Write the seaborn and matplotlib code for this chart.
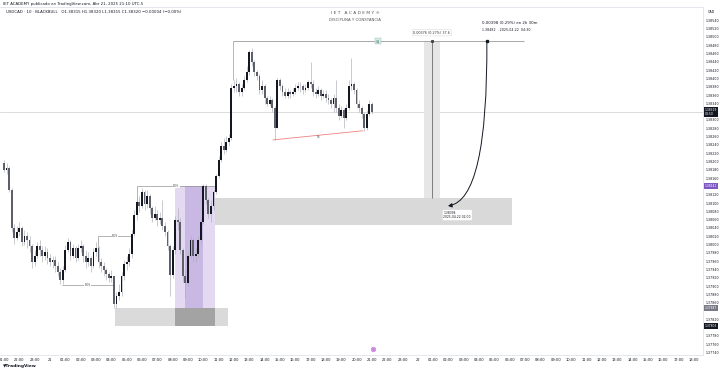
import matplotlib
matplotlib.use("Agg")
import matplotlib.pyplot as plt
import seaborn as sns
import numpy as np
import pandas as pd
from matplotlib.patches import Rectangle, FancyArrowPatch
from matplotlib.path import Path
import matplotlib.transforms as mtransforms

sns.set_theme(style="white")
plt.rcParams['font.family'] = ['DejaVu Sans']

# ---------------- data (USDCAD, 10 min candles) ----------------
first_open = 1.38196
close = [1.38180, 1.38184, 1.38131, 1.38040, 1.38016, 1.38030, 1.38040, 1.38006, 1.38020, 1.38011,
         1.37996, 1.37958, 1.37972, 1.37996, 1.37987, 1.37972, 1.37982, 1.37967, 1.37958, 1.37963,
         1.37948, 1.37934, 1.37914, 1.37939, 1.37987, 1.38006, 1.37972, 1.37991, 1.37967, 1.37991,
         1.37996, 1.37972, 1.37958, 1.37967, 1.37948, 1.37982, 1.37991, 1.37958, 1.37948, 1.37939,
         1.37929, 1.37919, 1.37924, 1.37856, 1.37876, 1.37886, 1.37924, 1.37953, 1.37958, 1.37977,
         1.38025, 1.38071, 1.38102, 1.38093, 1.38127, 1.38098, 1.38117, 1.38088, 1.38064, 1.38073,
         1.38059, 1.38064, 1.38045, 1.38030, 1.37996, 1.37926, 1.37987, 1.38059, 1.38054, 1.37987,
         1.37924, 1.37907, 1.37972, 1.38011, 1.37972, 1.37977, 1.38011, 1.38054, 1.38141, 1.38107,
         1.38073, 1.38093, 1.38127, 1.38165, 1.38204, 1.38237, 1.38228, 1.38247, 1.38257, 1.38377,
         1.38382, 1.38387, 1.38368, 1.38377, 1.38396, 1.38416, 1.38464, 1.38440, 1.38416, 1.38406,
         1.38372, 1.38382, 1.38353, 1.38339, 1.38348, 1.38329, 1.38281, 1.38396, 1.38382, 1.38368,
         1.38358, 1.38368, 1.38363, 1.38368, 1.38377, 1.38382, 1.38382, 1.38372, 1.38377, 1.38392,
         1.38387, 1.38368, 1.38363, 1.38372, 1.38358, 1.38363, 1.38353, 1.38348, 1.38339, 1.38353,
         1.38329, 1.38310, 1.38324, 1.38305, 1.38329, 1.38382, 1.38387, 1.38372, 1.38339, 1.38329,
         1.38315, 1.38281, 1.38315, 1.38339, 1.38319]
high = [1.38204, 1.38196, 1.38189, 1.38136, 1.38049, 1.38045, 1.38054, 1.38045, 1.38035, 1.38030,
        1.38020, 1.38001, 1.37987, 1.38006, 1.38011, 1.37996, 1.37996, 1.37991, 1.37977, 1.37972,
        1.37972, 1.37958, 1.37943, 1.37948, 1.37999, 1.38016, 1.38011, 1.38001, 1.37996, 1.38001,
        1.38011, 1.38001, 1.37987, 1.37982, 1.37972, 1.37991, 1.38006, 1.37996, 1.37967, 1.37958,
        1.37943, 1.37934, 1.37939, 1.37924, 1.37886, 1.37905, 1.37934, 1.37963, 1.37972, 1.37991,
        1.38035, 1.38083, 1.38112, 1.38117, 1.38136, 1.38131, 1.38131, 1.38122, 1.38093, 1.38093,
        1.38083, 1.38078, 1.38107, 1.38054, 1.38035, 1.38001, 1.37996, 1.38069, 1.38088, 1.38064,
        1.37991, 1.37939, 1.37982, 1.38020, 1.38016, 1.37991, 1.38020, 1.38064, 1.38146, 1.38146,
        1.38112, 1.38107, 1.38131, 1.38170, 1.38213, 1.38247, 1.38257, 1.38261, 1.38266, 1.38387,
        1.38396, 1.38401, 1.38392, 1.38387, 1.38406, 1.38430, 1.38469, 1.38474, 1.38445, 1.38421,
        1.38411, 1.38396, 1.38387, 1.38358, 1.38358, 1.38353, 1.38334, 1.38401, 1.38401, 1.38387,
        1.38377, 1.38377, 1.38372, 1.38377, 1.38387, 1.38392, 1.38392, 1.38387, 1.38387, 1.38396,
        1.38440, 1.38396, 1.38377, 1.38382, 1.38377, 1.38372, 1.38372, 1.38363, 1.38353, 1.38363,
        1.38396, 1.38339, 1.38334, 1.38329, 1.38339, 1.38396, 1.38449, 1.38392, 1.38377, 1.38348,
        1.38334, 1.38319, 1.38324, 1.38348, 1.38343]
low = [1.38175, 1.38170, 1.38127, 1.38030, 1.38001, 1.38011, 1.38020, 1.37996, 1.37999, 1.37991,
       1.37982, 1.37943, 1.37948, 1.37967, 1.37972, 1.37958, 1.37963, 1.37953, 1.37948, 1.37943,
       1.37934, 1.37924, 1.37905, 1.37905, 1.37934, 1.37982, 1.37963, 1.37967, 1.37958, 1.37963,
       1.37982, 1.37958, 1.37943, 1.37948, 1.37934, 1.37943, 1.37972, 1.37943, 1.37934, 1.37924,
       1.37914, 1.37910, 1.37910, 1.37847, 1.37847, 1.37866, 1.37876, 1.37914, 1.37939, 1.37948,
       1.37967, 1.38020, 1.38059, 1.38078, 1.38088, 1.38083, 1.38088, 1.38073, 1.38054, 1.38059,
       1.38045, 1.38049, 1.38035, 1.38020, 1.37987, 1.37876, 1.37919, 1.37977, 1.38035, 1.37977,
       1.37910, 1.37871, 1.37900, 1.37967, 1.37958, 1.37958, 1.37967, 1.38001, 1.38049, 1.38098,
       1.38064, 1.38054, 1.38083, 1.38122, 1.38160, 1.38199, 1.38218, 1.38223, 1.38237, 1.38252,
       1.38368, 1.38368, 1.38358, 1.38358, 1.38372, 1.38392, 1.38408, 1.38430, 1.38406, 1.38396,
       1.38363, 1.38363, 1.38339, 1.38334, 1.38334, 1.38319, 1.38252, 1.38281, 1.38372, 1.38358,
       1.38353, 1.38353, 1.38353, 1.38358, 1.38363, 1.38372, 1.38368, 1.38363, 1.38368, 1.38372,
       1.38377, 1.38358, 1.38353, 1.38358, 1.38348, 1.38353, 1.38343, 1.38339, 1.38329, 1.38319,
       1.38319, 1.38300, 1.38305, 1.38281, 1.38300, 1.38324, 1.38372, 1.38363, 1.38329, 1.38319,
       1.38305, 1.38274, 1.38276, 1.38310, 1.38315]

hour_labels = ["21:00", "22:00", "23:00", "21", "01:00", "02:00", "03:00", "04:00", "05:00", "06:00",
               "07:00", "08:00", "09:00", "10:00", "11:00", "12:00", "13:00", "14:00", "15:00", "16:00",
               "17:00", "18:00", "19:00", "20:00", "21:00", "22:00", "23:00", "22", "01:00", "02:00",
               "03:00", "04:00", "05:00", "06:00", "07:00", "08:00", "09:00", "10:00", "11:00", "12:00",
               "13:00", "14:00", "15:00", "16:00", "17:00", "18:00"]
candles_per_hour = 6
price_ticks = [1.37740, 1.37760, 1.37780, 1.37800, 1.37820, 1.37840, 1.37860, 1.37880, 1.37900,
               1.37920, 1.37940, 1.37960, 1.37980, 1.38000, 1.38020, 1.38040, 1.38060, 1.38080,
               1.38100, 1.38120, 1.38140, 1.38160, 1.38180, 1.38200, 1.38220, 1.38240, 1.38260,
               1.38280, 1.38300, 1.38320, 1.38340, 1.38360, 1.38380, 1.38400, 1.38420, 1.38440,
               1.38460, 1.38480, 1.38500, 1.38520, 1.38540]

# price tags shown on the scale
tag_prices = [close[-1], 1.38141, 1.37847, 1.37803]
tag_texts = ["1.38319\n04:50", "1.38141", "1.37847", "1.37803"]
tag_colors = ["#131722", "#7e57c2", "#787b86", "#131722"]

# annotation levels (candle index, price)
liq_high = 1.38490            # top liquidity level
liq_x = [89.7, 203.5]
target_zone = [79.5, 198.8, 1.38112, 1.38047]     # x0, x1, top, bottom
low_zone = [43.4, 87.7, 1.37847, 1.37803]
ob_zone = [66.9, 82.6, 1.38141, 1.37847]
ob_core = [70.8, 77.9, 1.38141, 1.37847]
ob_base = [66.9, 82.6, 1.37847, 1.37803]
measure_band = [164.4, 170.6, 1.38490, 1.38112]
bos_levels = [(52.1, 82.6, 1.38141, "BOS"), (36.8, 50.1, 1.38020, "BOS"), (22.7, 42.7, 1.37902, "BOS")]
trend_low = [(105.3, 1.38252), (140.5, 1.38274)]
arrow_pts = [(189.0, 1.38490), (189.4, 1.38107), (173.8, 1.38093)]

df = pd.DataFrame({"close": close, "high": high, "low": low})
df["open"] = [first_open] + close[:-1]
df["idx"] = np.arange(len(df))
df["bull"] = df["close"] >= df["open"]

# ---------------- figure ----------------
fig = plt.figure(figsize=(7.2, 3.71), dpi=100)
ax = fig.add_axes([0.0, 16 / 371, 703 / 720, 348 / 371])
ax.set_facecolor("white")

ax.set_xlim(-1.57, 273.6)
ax.set_ylim(1.37734, 1.38572)

# current price line
last = close[-1]
ax.axhline(last, color="#d6d6d6", lw=0.6, zorder=1)

# zones
def rect(z, fc, alpha=1.0, zorder=1, ec="none"):
    ax.add_patch(Rectangle((z[0], z[3]), z[1] - z[0], z[2] - z[3], facecolor=fc, edgecolor=ec,
                           alpha=alpha, lw=0, zorder=zorder))

rect(target_zone, "#d9d9d9", zorder=1)
rect(low_zone, "#dadada", zorder=1)
rect(ob_zone, "#e3d9f0", zorder=1.2)
rect(ob_core, "#c9b8e3", zorder=1.3)
rect(ob_base, "#a3a3a3", zorder=1.4)
rect(measure_band, "#e6e6e6", zorder=1)
mid_band = (measure_band[0] + measure_band[1]) / 2
ax.vlines(mid_band, measure_band[3], measure_band[2], color="#6b6b6b", lw=0.6, zorder=2)

# candles
wick_c = "#a9acb4"
ax.vlines(df["idx"], df["low"], df["high"], color=wick_c, lw=0.45, zorder=3)
body_lo = np.minimum(df["open"], df["close"])
body_h = np.maximum(np.abs(df["close"] - df["open"]), 0.000006)
colors = np.where(df["bull"], "#131722", "#5d606b")
ax.bar(df["idx"], body_h, bottom=body_lo, width=0.72, color=colors, linewidth=0, zorder=4)

# liquidity line at the top
ax.vlines(liq_x[0], df["high"][90], liq_high, color="#9a9a9a", lw=0.5, zorder=2)
ax.hlines(liq_high, liq_x[0], liq_x[1], color="#9a9a9a", lw=0.6, zorder=2)
lab_x = 146.4
ax.text(lab_x, liq_high, r"\$\$", fontsize=2.4, ha="center", va="center", color="#3d6b63", zorder=5,
        bbox=dict(boxstyle="square,pad=0.25", fc="#d5ebe7", ec="#9fb8b3", lw=0.3))

# BOS levels
for x0, x1, lvl, txt in bos_levels:
    ax.hlines(lvl, x0, x1, color="#8a8a8a", lw=0.45, zorder=2)
    ax.text((x0 + x1) / 2, lvl, txt, fontsize=2.2, ha="center", va="center", color="#555555", zorder=5,
            bbox=dict(boxstyle="square,pad=0.1", fc="white", ec="none"))
ax.vlines(bos_levels[0][0], 1.38100, bos_levels[0][2], color="#8a8a8a", lw=0.45, zorder=2)
ax.vlines(bos_levels[1][0], 1.37987, bos_levels[1][2], color="#8a8a8a", lw=0.45, zorder=2)

# trend line of equal lows
ax.plot([trend_low[0][0], trend_low[1][0]], [trend_low[0][1], trend_low[1][1]],
        color="#f08080", lw=0.6, zorder=5)
ax.text(123, 1.38261, r"\$\$", fontsize=2.2, ha="center", va="center", color="#555555", zorder=6)

# curved arrow
path = Path(arrow_pts, [Path.MOVETO, Path.CURVE3, Path.CURVE3])
arr = FancyArrowPatch(path=path, arrowstyle="-|>,head_length=2.2,head_width=1.2", color="#131722",
                      lw=0.7, zorder=6)
ax.add_patch(arr)
ax.plot([arrow_pts[0][0]], [arrow_pts[0][1]], marker="s", ms=1.4, color="#131722", zorder=6)
ax.plot([mid_band], [measure_band[2]], marker="s", ms=1.2, color="#444444", zorder=6)

# measurement labels
ax.text(mid_band, 1.38510, "0.00376 (0.27%) 37.6", fontsize=2.4, ha="center", va="center",
        color="#333333", zorder=6,
        bbox=dict(boxstyle="round,pad=0.35", fc="white", ec="#cfcfcf", lw=0.3))
ax.text(187.0, 1.38534, "0,00398 (0.29%) en 2h 30m", fontsize=2.8, ha="left", va="center",
        color="#131722", zorder=6)
ax.text(187.0, 1.38517, "1.38482    2025-04-22  04:30", fontsize=2.3, ha="left", va="center",
        color="#131722", zorder=6)
ax.text(172.0, 1.38071, "1.38094\n2025-04-22 02:00", fontsize=2.2, ha="left", va="center",
        color="#131722", zorder=6, linespacing=1.2,
        bbox=dict(boxstyle="round,pad=0.4", fc="white", ec="#cfcfcf", lw=0.3))

# axes styling: scale labels hidden where a price tag covers them (as on the reference)
shown_ticks = [p for p in price_ticks if min(abs(p - t) for t in tag_prices) > 0.00008]
ax.yaxis.tick_right()
ax.set_yticks(shown_ticks)
ax.set_yticklabels([f"{p:.5f}" for p in shown_ticks])
ax.tick_params(axis="y", length=0, labelsize=2.3, pad=1.6, colors="#131722")
ax.set_xticks([h * candles_per_hour for h in range(len(hour_labels))])
ax.set_xticklabels(hour_labels)
ax.tick_params(axis="x", length=0, labelsize=2.6, pad=2.0, colors="#131722")
ax.spines["left"].set_visible(False)
for s in ["top", "right", "bottom"]:
    ax.spines[s].set_color("#e0e3eb")
    ax.spines[s].set_linewidth(0.6)
ax.grid(False)

# price tags on right axis
trans = mtransforms.blended_transform_factory(ax.transAxes, ax.transData)
for price, txt, fc in zip(tag_prices, tag_texts, tag_colors):
    ax.text(1.003, price, txt, transform=trans, fontsize=2.2, ha="left", va="center", color="white",
            zorder=10, clip_on=False, linespacing=1.1,
            bbox=dict(boxstyle="square,pad=0.3", fc=fc, ec="none"))

# header and watermark
fig.text(3 / 720, 1 - 3.5 / 371, "IET ACADEMY publicado en TradingView.com, Abr 21, 2025 21:10 UTC-5",
         fontsize=2.8, color="#131722", va="center", ha="left")
fig.text(6 / 720, 1 - 12 / 371,
         "USDCAD · 10 · BLACKBULL   O1.38315 H1.38320 L1.38315 C1.38320 \u22120.00004 (\u22120.00%)",
         fontsize=2.8, color="#131722", va="center", ha="left")
fig.text(355 / 720, 1 - 12.5 / 371, "I E T   A C A D E M Y ®", fontsize=3.2, color="#555555",
         va="center", ha="center")
fig.text(355 / 720, 1 - 20 / 371, "DISCIPLINA Y CONSTANCIA", fontsize=2.8, color="#555555",
         va="center", ha="center")
fig.text(711 / 720, 1 - 12 / 371, "CAD", fontsize=2.4, color="#131722", va="center", ha="center")
fig.text(3 / 720, 1 - 366 / 371, "\u25BCTradingView", fontsize=3.2, color="#131722", va="center",
         ha="left", fontweight="bold")
ax.plot([(373 - 4) / 2.555], [1.37748], marker="o", ms=3.2, mfc="none", mec="#c77ddb", mew=0.6,
        clip_on=False, zorder=10)
ax.plot([(373 - 4) / 2.555], [1.37748], marker="o", ms=1.3, color="#c77ddb", clip_on=False, zorder=10)

fig.savefig("out.png", dpi=100, facecolor="white")
